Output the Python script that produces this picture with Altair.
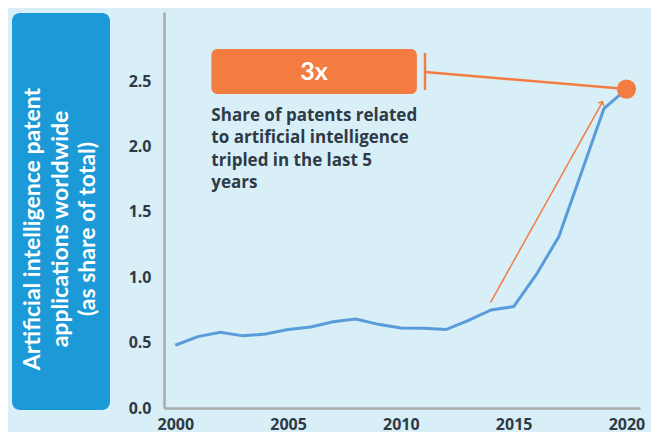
import altair as alt
import pandas as pd

years = list(range(2000, 2021))
share = [0.48, 0.546, 0.58, 0.552, 0.567, 0.60, 0.62, 0.66, 0.68, 0.64, 0.613,
         0.61, 0.60, 0.67, 0.75, 0.776, 1.02, 1.31, 1.80, 2.29, 2.44]
y_ticks = [0.0, 0.5, 1.0, 1.5, 2.0, 2.5]
x_ticks = [2000, 2005, 2010, 2015, 2020]
title_lines = ["Artificial intelligence patent", "applications worldwide", "(as share of total)"]
badge_text = "3x"
note_lines = ["Share of patents related", "to artificial intelligence", "tripled in the last 5", "years"]

BG = "#d9eff8"
BLUE_BOX = "#1b9ad7"
LINE = "#5a9bd9"
ORANGE = "#f47c40"
DARK = "#2e3a46"
FONT = "Open Sans"
TFONT = "Lato"

df = pd.DataFrame({"year": years, "share": share})
last = df.iloc[[-1]]

xs = alt.Scale(domain=[1999.5, 2020.6], nice=False, zero=False)
ys = alt.Scale(domain=[0, 3.03], nice=False)

X = alt.X("year:Q", scale=xs,
          axis=alt.Axis(values=x_ticks, format="d", title=None, grid=False, ticks=False,
                        domainColor="#aaaaaa", domainWidth=2.5, labelFont=FONT,
                        labelFontSize=16, labelFontWeight="bold", labelColor=DARK,
                        labelPadding=8, labelFlush=False))
Y = alt.Y("share:Q", scale=ys,
          axis=alt.Axis(values=y_ticks, format=".1f", title=None, grid=False, ticks=False,
                        domainColor="#aaaaaa", domainWidth=2.5, labelFont=FONT,
                        labelFontSize=16, labelFontWeight="bold", labelColor=DARK,
                        labelPadding=13))

one = alt.Data(values=[{}])

title_box = alt.Chart(one).mark_rect(color=BLUE_BOX, cornerRadius=8).encode(
    x=alt.value(-152), x2=alt.value(-54), y=alt.value(1), y2=alt.value(398))
title_layers = []
for txt, xpos in zip(title_lines, [-131, -103, -76]):
    title_layers.append(alt.Chart(one).mark_text(
        text=txt, angle=270, align="center", baseline="middle", font=TFONT,
        fontSize=23, fontWeight="bold", color="white").encode(x=alt.value(xpos), y=alt.value(217)))

line = alt.Chart(df).mark_line(color=LINE, strokeWidth=3).encode(x=X, y=Y)
dot = alt.Chart(last).mark_point(filled=True, color=ORANGE, size=370, opacity=1).encode(
    x=alt.X("year:Q", scale=xs), y=alt.Y("share:Q", scale=ys))

# annotation geometry (data coordinates)
ann = alt.Chart(one)
connector = ann.mark_rule(color=ORANGE, strokeWidth=2.5).encode(
    x=alt.datum(2011.07, scale=xs), y=alt.datum(2.571, scale=ys),
    x2=alt.datum(2020), y2=alt.datum(2.44))
cap = ann.mark_rule(color=ORANGE, strokeWidth=2.5).encode(
    x=alt.datum(2011.07, scale=xs), y=alt.datum(2.716, scale=ys), y2=alt.datum(2.433))
badge = ann.mark_rect(color=ORANGE, cornerRadius=6).encode(
    x=alt.datum(2001.6, scale=xs), x2=alt.datum(2010.71),
    y=alt.datum(2.747, scale=ys), y2=alt.datum(2.402))
badge_lbl = ann.mark_text(text=badge_text, color="white", font=TFONT, fontSize=25,
                          fontWeight="bold", align="center", baseline="middle").encode(
    x=alt.datum(2006.15, scale=xs), y=alt.datum(2.571, scale=ys))
note = ann.mark_text(text=note_lines, color=DARK, font=FONT, fontSize=17, fontWeight="bold",
                     align="left", baseline="middle", lineHeight=22.3).encode(
    x=alt.datum(2001.6, scale=xs), y=alt.datum(2.234, scale=ys))
arrow = ann.mark_rule(color=ORANGE, strokeWidth=1.5).encode(
    x=alt.datum(2013.97, scale=xs), y=alt.datum(0.806, scale=ys),
    x2=alt.datum(2018.94), y2=alt.datum(2.343))
head = ann.mark_point(shape="M -0.8 0.8 L 0 0 L 0.8 0.8", filled=False, color=ORANGE,
                      strokeWidth=1.5, size=60, angle=29, opacity=1).encode(
    x=alt.datum(2018.94, scale=xs), y=alt.datum(2.343, scale=ys))

chart = alt.layer(
    title_box, *title_layers, line, arrow, head, connector, cap, badge, badge_lbl, note, dot
).properties(
    width=476, height=396, background=BG,
    padding={"left": 156, "top": 4, "right": 11, "bottom": 26},
    autosize=alt.AutoSizeParams(type="none"),
).configure_view(stroke=None)

chart.save("out.html", embed_options={"renderer": "svg", "actions": False})
